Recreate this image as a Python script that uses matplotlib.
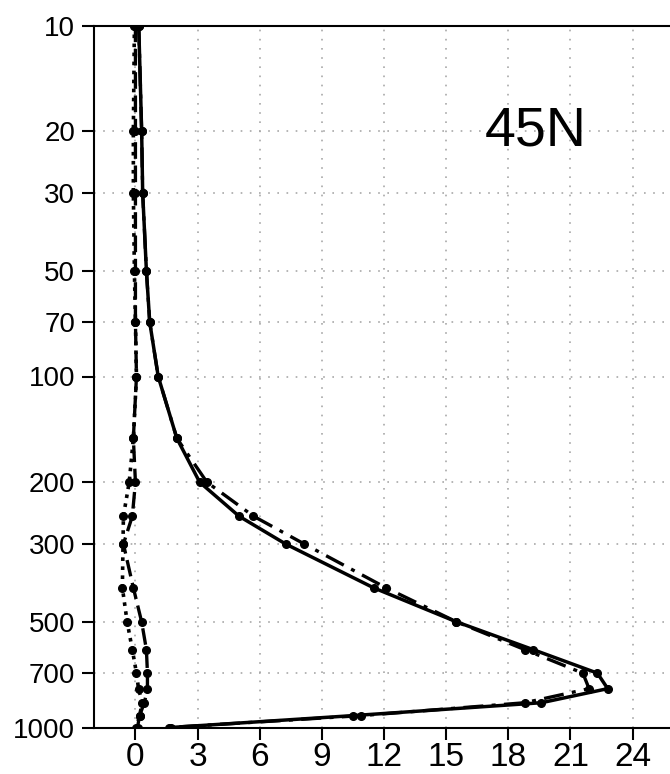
import matplotlib
matplotlib.use("Agg")
import matplotlib.pyplot as plt
from matplotlib.ticker import NullLocator

# pressure levels (hPa) and zonal wind profiles at 45N
levels = [10, 20, 30, 50, 70, 100, 150, 200, 250, 300, 400, 500, 600, 700, 775, 850, 925, 1000]
solid = [0.16, 0.3, 0.35, 0.53, 0.69, 1.1, 2.0, 3.1, 5.0, 7.25, 11.5, 15.5, 19.2, 22.3, 22.8, 19.6, 10.5, 1.7]
dashdot = [0.16, 0.3, 0.35, 0.53, 0.69, 1.1, 2.0, 3.45, 5.7, 8.15, 12.1, 15.5, 18.8, 21.6, 21.9, 18.8, 10.9, 1.6]
dashed = [0.0, 0.0, 0.0, 0.0, 0.0, 0.05, -0.1, 0.0, -0.15, -0.58, -0.1, 0.3, 0.53, 0.58, 0.58, 0.43, 0.2, 0.1]
dotted = [-0.05, -0.1, -0.1, -0.05, 0.0, 0.05, -0.1, -0.3, -0.58, -0.6, -0.63, -0.4, -0.15, 0.05, 0.15, 0.33, 0.2, 0.05]

xticks = [0, 3, 6, 9, 12, 15, 18, 21, 24]
yticks = [10, 20, 30, 50, 70, 100, 200, 300, 500, 700, 1000]

plt.rcParams['font.family'] = ['Liberation Sans', 'DejaVu Sans']

fig = plt.figure(figsize=(6.7, 7.74), dpi=100)
ax = fig.add_axes([94 / 670, 1 - 727.5 / 774, 580 / 670, 702 / 774])

# dotted grey grid at the labelled ticks
grid_kw = dict(color='#a8a8a8', lw=1.2, ls=(0, (1, 4.5)), zorder=0)
for x in xticks:
    ax.axvline(x, **grid_kw)
for y in yticks[1:-1]:
    ax.axhline(y, **grid_kw)

mk = dict(color='black', marker='o', markersize=5.5, zorder=3)
ax.plot(dotted, levels, ls=(0, (1, 1.5)), lw=2.6, **mk)
ax.plot(dashed, levels, ls=(0, (5, 2)), lw=2.4, **mk)
ax.plot(dashdot, levels, ls=(0, (6, 2.5, 1.2, 2.5)), lw=2.4, **mk)
ax.plot(solid, levels, ls='-', lw=2.5, **mk)

ax.set_yscale('log')
ax.set_ylim(1000, 10)
ax.set_xlim(-2, 26)
ax.yaxis.set_minor_locator(NullLocator())
ax.set_yticks(yticks)
ax.set_yticklabels([str(v) for v in yticks], fontsize=20)
ax.set_xticks(xticks)
ax.set_xticklabels([str(v) for v in xticks], fontsize=24)
ax.tick_params(axis='both', length=8.5, width=1.5, direction='out')
ax.tick_params(axis='y', pad=5)
ax.tick_params(axis='x', pad=2)

for side in ['left', 'bottom', 'top']:
    ax.spines[side].set_linewidth(1.5)
ax.spines['right'].set_visible(False)

fig.text(536 / 670, 1 - 132 / 774, '45N', ha='center', va='center', fontsize=40)

fig.savefig('out.png', dpi=100)
